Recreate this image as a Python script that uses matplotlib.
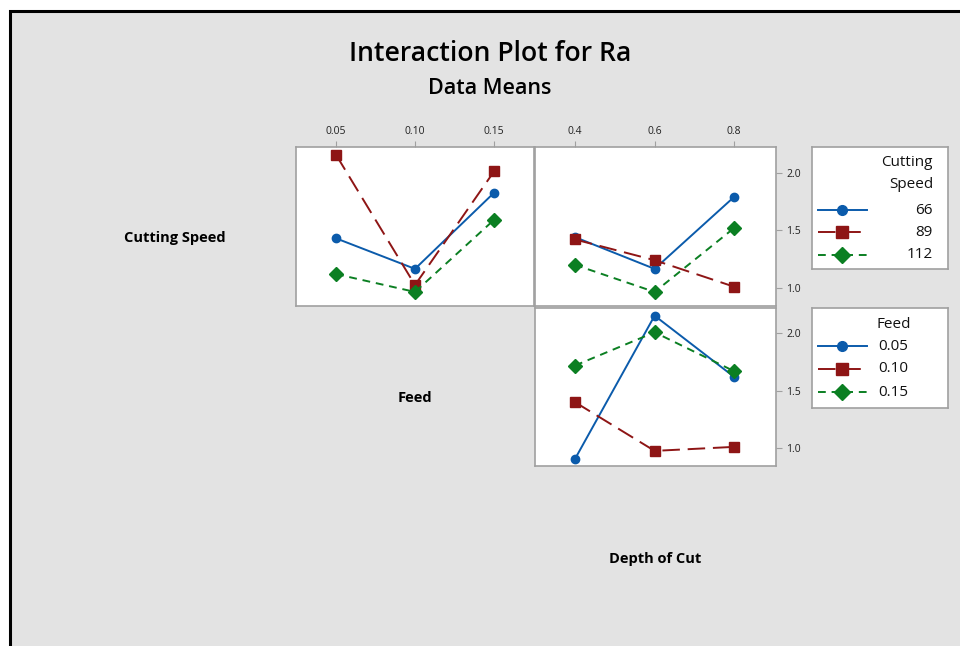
import matplotlib.pyplot as plt
from matplotlib.patches import Rectangle

plt.rcParams['font.family'] = ['Open Sans', 'DejaVu Sans']

feed_levels = [0.05, 0.10, 0.15]
depth_levels = [0.4, 0.6, 0.8]
speed_labels = ['66', '89', '112']
feed_labels = ['0.05', '0.10', '0.15']

# Cutting Speed x Feed (means of Ra)
speed_by_feed = {
    '66': [1.43, 1.165, 1.825],
    '89': [2.155, 1.025, 2.01],
    '112': [1.12, 0.965, 1.59],
}
# Cutting Speed x Depth of Cut
speed_by_depth = {
    '66': [1.44, 1.165, 1.79],
    '89': [1.42, 1.24, 1.01],
    '112': [1.20, 0.965, 1.52],
}
# Feed x Depth of Cut
feed_by_depth = {
    '0.05': [0.905, 2.155, 1.62],
    '0.10': [1.40, 0.975, 1.01],
    '0.15': [1.72, 2.01, 1.67],
}

colors = ['#0b5bab', '#8e1515', '#0b7f22']
markers = ['o', 's', 'D']
msizes = [6, 7, 7]
dashes = [None, (9, 4), (4, 3)]

W, H = 960, 646
fig = plt.figure(figsize=(9.6, 6.46), dpi=100)
fig.patch.set_facecolor('white')
fig.add_artist(Rectangle((10 / W, -0.05), 1.0, 1 - 11 / H + 0.05,
                         transform=fig.transFigure, facecolor='#e3e3e3',
                         edgecolor='black', linewidth=2.2, zorder=0))

spine_col = '#a0a0a0'


def px_axes(x0, y0, x1, y1):
    return fig.add_axes([x0 / W, (H - y1) / H, (x1 - x0) / W, (y1 - y0) / H])


def style(ax, top=False, right=False):
    ax.set_facecolor('white')
    for s in ax.spines.values():
        s.set_color(spine_col)
        s.set_linewidth(1.2)
    ax.tick_params(axis='both', colors=spine_col, labelcolor='#222222',
                   labelsize=7.5, length=4, direction='out')
    ax.tick_params(axis='x', bottom=False, labelbottom=False,
                   top=top, labeltop=top)
    ax.tick_params(axis='y', left=False, labelleft=False,
                   right=right, labelright=right)
    ax.set_ylim(0.843, 2.222)
    ax.set_yticks([1.0, 1.5, 2.0])
    ax.set_yticklabels(['1.0', '1.5', '2.0'])


def styled_line(ax, xs, ys, i, **kw):
    ln, = ax.plot(xs, ys, color=colors[i], linewidth=1.4, **kw)
    if dashes[i] is not None:
        ln.set_dashes(dashes[i])
    return ln


def draw(ax, xs, data, keys):
    for i, k in enumerate(keys):
        styled_line(ax, xs, data[k], i, marker=markers[i],
                    markersize=msizes[i])


ax1 = px_axes(296, 147, 534, 306)
draw(ax1, feed_levels, speed_by_feed, speed_labels)
style(ax1, top=True)
ax1.set_xlim(0.0247, 0.1753)
ax1.set_xticks(feed_levels)
ax1.set_xticklabels(['0.05', '0.10', '0.15'])

ax2 = px_axes(535, 147, 776, 306)
draw(ax2, depth_levels, speed_by_depth, speed_labels)
style(ax2, top=True, right=True)
ax2.set_xlim(0.2994, 0.905)
ax2.set_xticks(depth_levels)
ax2.set_xticklabels(['0.4', '0.6', '0.8'])

ax3 = px_axes(535, 308, 776, 466)
draw(ax3, depth_levels, feed_by_depth, feed_labels)
style(ax3, right=True)
ax3.set_xlim(0.2994, 0.905)
ax3.set_xticks(depth_levels)


def legend_box(y0, y1, title_lines, title_x, title_ha, labels, label_x,
               label_ha, entry_ys):
    lax = px_axes(812, y0, 948, y1)
    lax.set_xlim(812, 948)
    lax.set_ylim(y1, y0)
    lax.set_facecolor('white')
    lax.set_xticks([])
    lax.set_yticks([])
    for s in lax.spines.values():
        s.set_color(spine_col)
        s.set_linewidth(1.2)
    for txt, ty in title_lines:
        lax.text(title_x, ty, txt, ha=title_ha, va='center', fontsize=11,
                 color='#111111')
    for i, (lab, ey) in enumerate(zip(labels, entry_ys)):
        styled_line(lax, [818, 867], [ey, ey], i)
        lax.plot([842], [ey], marker=markers[i], color=colors[i],
                 markersize=msizes[i] + 1, linestyle='none')
        lax.text(label_x, ey, lab, ha=label_ha, va='center', fontsize=11,
                 color='#111111')


legend_box(147, 269, [('Cutting', 163), ('Speed', 185)], 933, 'right',
           speed_labels, 933, 'right', [210, 232, 255])
legend_box(308, 408, [('Feed', 324)], 877, 'left',
           feed_labels, 878, 'left', [346, 369, 392])

fig.text(490 / W, 1 - 54 / H, 'Interaction Plot for Ra', ha='center',
         va='center', fontsize=19.2, fontweight='semibold')
fig.text(490 / W, 1 - 88 / H, 'Data Means', ha='center', va='center',
         fontsize=15.5, fontweight='semibold')
fig.text(175 / W, 1 - 238 / H, 'Cutting Speed', ha='center', va='center',
         fontsize=10.5, fontweight='bold')
fig.text(415 / W, 1 - 398 / H, 'Feed', ha='center', va='center',
         fontsize=10.5, fontweight='bold')
fig.text(655 / W, 1 - 559 / H, 'Depth of Cut', ha='center', va='center',
         fontsize=10.5, fontweight='bold')

fig.savefig('out.png', dpi=100, facecolor=fig.get_facecolor())
